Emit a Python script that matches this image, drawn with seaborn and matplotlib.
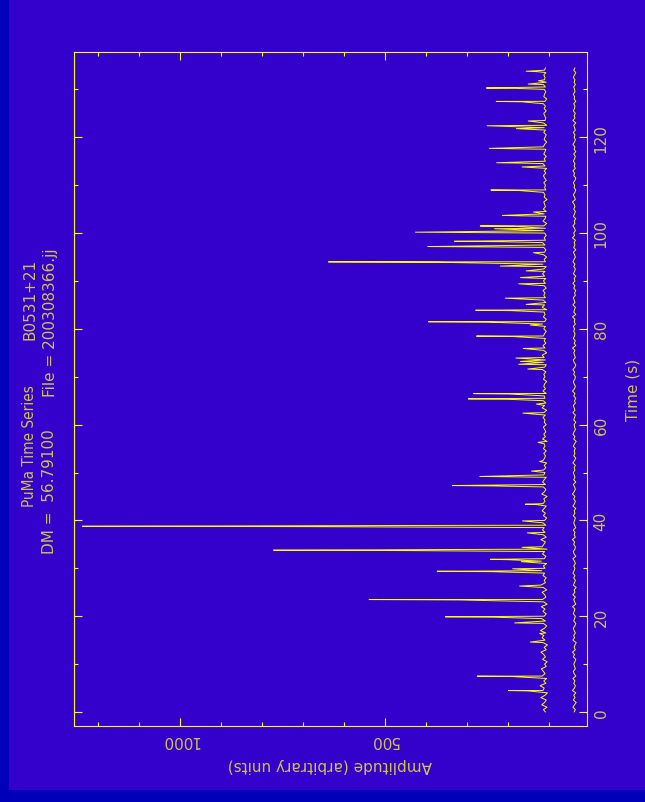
import numpy as np
import pandas as pd
import matplotlib
matplotlib.use("Agg")
import matplotlib.pyplot as plt
import seaborn as sns
from matplotlib.patches import Rectangle
from matplotlib.ticker import FixedLocator, MultipleLocator

# ---------------------------------------------------------------- data
SAMPLE_STEP = 0.5  # seconds between baseline samples

# detected-power baseline of the time series (arbitrary units)
pulse_floor = [
    108, 113, 104, 117, 110, 106, 119, 109, 103, 114, 111, 121, 107, 112, 105, 116, 109, 113, 118, 106,
    110, 104, 115, 108, 112, 119, 106, 111, 103, 114, 109, 116, 112, 107, 120, 110, 105, 113, 108, 117,
    111, 106, 114, 109, 118, 104, 112, 115, 107, 110, 116, 105, 113, 119, 108, 111, 106, 114, 110, 117,
    109, 113, 105, 118, 111, 107, 115, 110, 104, 116, 112, 108, 119, 106, 113, 109, 115, 111, 107, 114,
    110, 105, 113, 108, 116, 111, 106, 114, 109, 112, 104, 117, 110, 107, 113, 108, 115, 111, 106, 112,
    109, 113, 107, 111, 105, 114, 110, 108, 112, 106, 113, 109, 111, 104, 115, 108, 112, 107, 110, 113,
    106, 111, 109, 114, 108, 112, 105, 116, 110, 107, 113, 109, 111, 106, 114, 108, 112, 110, 105, 113,
    109, 112, 107, 115, 110, 106, 113, 108, 111, 116, 105, 112, 109, 114, 107, 111, 108, 113, 110, 106,
    112, 108, 115, 110, 106, 113, 109, 111, 105, 116, 110, 107, 113, 108, 112, 109, 114, 106, 111, 108,
    113, 107, 110, 115, 109, 112, 106, 114, 108, 111, 105, 113, 110, 107, 112, 109, 115, 108, 111, 106,
    110, 113, 108, 112, 105, 114, 109, 107, 111, 106, 113, 108, 110, 112, 104, 111, 109, 113, 107, 110,
    108, 112, 106, 110, 113, 107, 111, 105, 109, 114, 108, 111, 106, 112, 109, 107, 113, 110, 105, 111,
    109, 106, 112, 108, 111, 105, 113, 109, 107, 110, 112, 106, 111, 108, 113, 109, 105, 112, 110, 107,
    111, 108, 113, 106, 110, 109, 112, 107, 110, 108,
]

# off-source reference channel
off_trace = [
    38, 35, 41, 37, 33, 40, 36, 39, 34, 42, 37, 35, 39, 36, 41, 34, 38, 40, 35, 37,
    39, 36, 34, 40, 37, 42, 35, 38, 36, 33, 41, 37, 39, 35, 38, 40, 36, 34, 39, 37,
    35, 40, 38, 36, 42, 34, 37, 39, 35, 41, 36, 38, 33, 40, 37, 35, 39, 36, 41, 38,
    36, 39, 35, 37, 41, 34, 38, 40, 36, 35, 39, 37, 42, 35, 38, 36, 40, 34, 37, 39,
    37, 35, 40, 36, 38, 34, 41, 37, 35, 39, 36, 42, 38, 35, 37, 40, 34, 39, 36, 38,
    40, 36, 38, 35, 41, 37, 34, 39, 36, 38, 35, 40, 37, 33, 39, 36, 41, 38, 35, 37,
    38, 34, 39, 37, 35, 41, 36, 38, 40, 35, 37, 34, 39, 36, 42, 37, 35, 38, 40, 36,
    35, 39, 37, 41, 36, 34, 38, 40, 35, 37, 39, 36, 42, 34, 38, 35, 40, 37, 36, 39,
    37, 40, 35, 38, 36, 42, 34, 39, 37, 35, 41, 36, 38, 40, 35, 37, 34, 39, 36, 41,
    36, 38, 34, 40, 37, 35, 39, 36, 41, 38, 35, 37, 40, 34, 39, 36, 38, 35, 42, 37,
    39, 35, 37, 41, 36, 38, 34, 40, 37, 35, 39, 36, 38, 42, 35, 37, 40, 36, 34, 38,
    37, 40, 36, 34, 39, 37, 41, 35, 38, 36, 40, 37, 35, 39, 34, 38, 36, 41, 37, 35,
    38, 36, 40, 35, 37, 39, 34, 41, 36, 38, 35, 40, 37, 36, 39, 34, 38, 37, 40, 36,
    37, 39, 35, 38, 36, 40, 37, 34, 39, 36,
]

# single pulses: arrival time (s), peak amplitude, amplitude of the
# neighbouring sample (0 = pulse confined to one sample)
spike_time = [
    4.4, 7.4, 14.6, 16.4, 18.6, 19.8, 23.4, 26.3, 29.3, 29.9,
    31.4, 31.8, 33.7, 34.3, 37.4, 38.7, 39.9, 43.3, 47.2, 49.1,
    50.3, 52.3, 56.3, 62.4, 64.3, 65.3, 66.4, 71.6, 72.6, 73.2,
    73.9, 75.9, 78.4, 80.8, 81.4, 83.8, 85.1, 86.4, 89.4, 90.7,
    92.1, 93.1, 93.9, 95.9, 97.1, 98.2, 100.1, 100.9, 101.4, 103.6,
    104.4, 108.9, 113.8, 114.6, 117.6, 121.8, 122.4, 123.4, 127.4, 130.2,
    131.1, 131.8, 133.7,
]
spike_peak = [
    198, 274, 145, 122, 183, 352, 538, 171, 372, 188,
    167, 242, 771, 165, 152, 1237, 164, 157, 335, 268,
    142, 122, 126, 163, 130, 296, 283, 151, 173, 169,
    180, 162, 276, 145, 393, 278, 155, 206, 173, 169,
    155, 218, 637, 137, 395, 330, 425, 232, 267, 213,
    137, 241, 165, 227, 245, 179, 250, 150, 228, 252,
    150, 125, 155,
]
spike_shoulder = [
    150, 188, 0, 0, 0, 235, 320, 0, 240, 0,
    0, 198, 439, 150, 0, 671, 0, 128, 237, 185,
    0, 0, 0, 0, 0, 202, 196, 0, 0, 0,
    0, 0, 189, 0, 248, 191, 0, 0, 0, 0,
    0, 0, 370, 0, 248, 218, 269, 0, 186, 162,
    0, 176, 0, 167, 177, 0, 0, 0, 165, 180,
    0, 0, 128,
]

amp_major = [500, 1000]
amp_minor = [100, 200, 300, 400, 600, 700, 800, 900, 1100, 1200]
time_major = [0, 20, 40, 60, 80, 100, 120]

title_left = "PuMa Time Series"
title_right = "B0531+21"
info_left = "DM =  56.79100"
info_right = "File = 200308366.jj"

# ---------------------------------------------------------------- series
grid_t = np.arange(len(pulse_floor)) * SAMPLE_STEP
rows = list(zip(grid_t, pulse_floor))
for t, pk, sh in zip(spike_time, spike_peak, spike_shoulder):
    if sh:
        rows.append((t, sh))
        rows.append((t + 0.08, pk))
    else:
        rows.append((t, pk))
pulses = pd.DataFrame(rows, columns=["time", "amp"]).sort_values("time", kind="stable")
reference = pd.DataFrame({"time": np.arange(len(off_trace)) * SAMPLE_STEP, "amp": off_trace})

# ---------------------------------------------------------------- style
PAGE = "#0000b8"
PANEL = "#3300cc"
INK = "#ffff00"
TEXT = "#d2c250"
W, H = 645, 803

sns.set_style("ticks")
plt.rcParams["font.family"] = ["DejaVu Sans"]
plt.rcParams["font.size"] = 11

fig = plt.figure(figsize=(W / 100, H / 100), dpi=100, facecolor=PAGE)
fig.patches.append(Rectangle((9 / W, 12.5 / H), 1 - 9 / W, 1 - 12.5 / H,
                             transform=fig.transFigure, facecolor=PANEL,
                             edgecolor="none", zorder=-10))


def fx(px):
    return px / W


def fy(py):
    return 1 - py / H


left, right, top, bottom = 73.8, 586.6, 53.0, 726.7
ax = fig.add_axes([fx(left), fy(bottom), (right - left) / W, (bottom - top) / H])
ax.set_zorder(5)
ax.set_facecolor(PANEL)

sns.lineplot(data=pulses, x="amp", y="time", orient="y", sort=False,
             estimator=None, color=INK, lw=0.7, ax=ax)
sns.lineplot(data=reference, x="amp", y="time", orient="y", sort=False,
             estimator=None, color=INK, lw=0.7, ax=ax)

ax.set_xlim(1258, 7.6)
ax.set_ylim(-2.86, 137.8)
ax.set_xlabel("")
ax.set_ylabel("")

for s in ax.spines.values():
    s.set_color(INK)
    s.set_linewidth(0.8)

ax.xaxis.set_major_locator(FixedLocator(amp_major))
ax.xaxis.set_minor_locator(FixedLocator(amp_minor))
ax.yaxis.set_major_locator(FixedLocator(time_major))
ax.yaxis.set_minor_locator(MultipleLocator(10))

ax.tick_params(axis="both", which="both", direction="in", colors=INK,
               width=0.8, labelcolor=TEXT, labelsize=11)
ax.tick_params(axis="x", which="both", bottom=True, top=True,
               labelbottom=True, labeltop=False, pad=4.5)
ax.tick_params(axis="y", which="both", left=True, right=True,
               labelleft=False, labelright=True, pad=5)
ax.tick_params(axis="both", which="major", length=5.5)
ax.tick_params(axis="both", which="minor", length=3)

ax.set_xticklabels([str(v) for v in amp_major], rotation=180)
ax.set_yticklabels([str(v) for v in time_major], rotation=90, va="center")

fig.text(fx(330), fy(766), "Amplitude (arbitrary units)", rotation=180,
         ha="center", va="center", color=TEXT, fontsize=11)
fig.text(fx(633), fy(389.5), "Time (s)", rotation=90,
         ha="center", va="center", color=TEXT, fontsize=11)

# header block, written along the time axis
hdr = dict(rotation=90, rotation_mode="anchor", va="center", color=TEXT,
           fontsize=11)
fig.text(fx(30), fy(385), title_left, ha="right", fontstretch="condensed", **hdr)
fig.text(fx(30), fy(259), title_right, ha="right", **hdr)
fig.text(fx(50), fy(554), info_left, ha="left", **hdr)
fig.text(fx(50), fy(397), info_right, ha="left", **hdr)

fig.savefig("out.png", dpi=100, facecolor=PAGE)
